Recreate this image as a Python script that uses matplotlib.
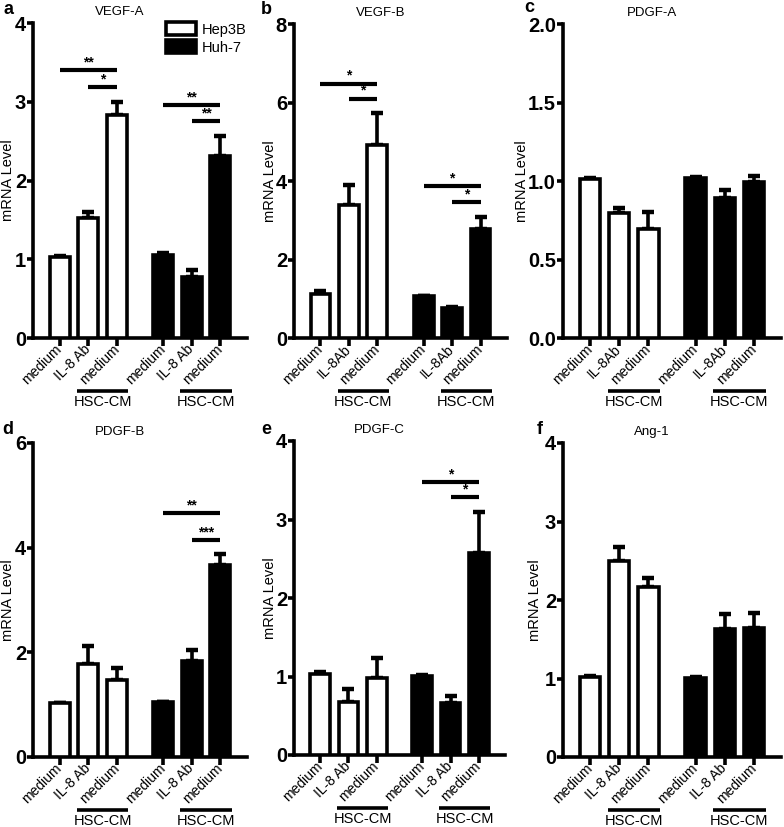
import matplotlib
matplotlib.use('Agg')
import matplotlib.pyplot as plt
import matplotlib.transforms as mtrans
from matplotlib.patches import Patch
from matplotlib.lines import Line2D
from matplotlib.ticker import FormatStrFormatter

plt.rcParams['font.family'] = ['Liberation Sans', 'DejaVu Sans']

# ---------------- data ----------------
panel_letters = ['a', 'b', 'c', 'd', 'e', 'f']
titles = ['VEGF-A', 'VEGF-B', 'PDGF-A', 'PDGF-B', 'PDGF-C', 'Ang-1']
labels_space = ['medium', 'IL-8 Ab', 'medium', 'medium', 'IL-8 Ab', 'medium']
labels_nospace = ['medium', 'IL-8Ab', 'medium', 'medium', 'IL-8Ab', 'medium']
tick_labels = [labels_space, labels_nospace, labels_nospace,
               labels_space, labels_space, labels_space]
series_names = ['Hep3B', 'Huh-7']
group_label = 'HSC-CM'

hep3b_mean = [[1.03, 1.52, 2.83],
              [1.13, 3.40, 4.92],
              [1.015, 0.795, 0.695],
              [1.03, 1.77, 1.47],
              [1.03, 0.67, 0.98],
              [1.02, 2.50, 2.16]]
hep3b_err = [[0.01, 0.08, 0.17],
             [0.06, 0.51, 0.80],
             [0.005, 0.035, 0.11],
             [0.01, 0.36, 0.24],
             [0.03, 0.17, 0.25],
             [0.01, 0.18, 0.12]]
huh7_mean = [[1.05, 0.77, 2.31],
             [1.06, 0.77, 2.78],
             [1.02, 0.89, 0.995],
             [1.05, 1.84, 3.66],
             [1.01, 0.66, 2.57],
             [1.01, 1.63, 1.64]]
huh7_err = [[0.03, 0.09, 0.25],
            [0.02, 0.02, 0.30],
            [0.005, 0.05, 0.04],
            [0.01, 0.21, 0.21],
            [0.005, 0.09, 0.53],
            [0.005, 0.19, 0.20]]

y_max = [4, 8, 2.0, 6, 4, 4]
y_step = [1, 2, 0.5, 2, 1, 1]

# significance: (panel, from bar, to bar, y value, text)
significance = [
    (0, 0, 2, 3.40, '**'), (0, 1, 2, 3.19, '*'),
    (0, 3, 5, 2.96, '**'), (0, 4, 5, 2.75, '**'),
    (1, 0, 2, 6.48, '*'), (1, 1, 2, 6.10, '*'),
    (1, 3, 5, 3.86, '*'), (1, 4, 5, 3.47, '*'),
    (3, 3, 5, 4.66, '**'), (3, 4, 5, 4.15, '***'),
    (4, 3, 5, 3.48, '*'), (4, 4, 5, 3.29, '*'),
]

# ---------------- layout ----------------
W, H = 784, 827
fig = plt.figure(figsize=(W / 100, H / 100), dpi=100)

# axes rectangles in pixels: left, right, top, bottom
rects = [(33, 247, 23, 338), (294, 507, 24, 338), (563, 781, 24, 338),
         (33, 247, 443, 757), (294, 505, 441, 755), (563, 781, 443, 757)]
letter_pos = [(9, 9), (266, 9), (529, 8), (8, 429), (266, 429), (540, 429)]
ylabel_x = [8, 270, 522, 8, 270, 535]

group_gap = 1.62
pos = [0, 1, 2, 2 + group_gap, 3 + group_gap, 4 + group_gap]
LW = 2.6
bar_w = 0.7

for i in range(6):
    l, r, t, b = rects[i]
    ax = fig.add_axes([l / W, 1 - b / H, (r - l) / W, (b - t) / H])
    means = hep3b_mean[i] + huh7_mean[i]
    errs = hep3b_err[i] + huh7_err[i]
    colors = ['white'] * 3 + ['black'] * 3
    ax.bar(pos, means, width=bar_w, color=colors, edgecolor='black',
           linewidth=LW, zorder=3)
    ax.errorbar(pos, means, yerr=[[0] * 6, errs], fmt='none', ecolor='black',
                elinewidth=LW, capsize=4.5, capthick=LW + 0.6, zorder=2)
    ax.set_xlim(-0.93, pos[-1] + 0.93)
    ax.set_ylim(0, y_max[i])
    ticks = [k * y_step[i] for k in range(int(round(y_max[i] / y_step[i])) + 1)]
    ax.set_yticks(ticks)
    if i == 2:
        ax.yaxis.set_major_formatter(FormatStrFormatter('%.1f'))
    for s in ['top', 'right']:
        ax.spines[s].set_visible(False)
    for s in ['left', 'bottom']:
        ax.spines[s].set_linewidth(LW)
    ax.tick_params(axis='y', length=4, width=LW, pad=1, labelsize=14.5)
    for lab in ax.get_yticklabels():
        lab.set_fontweight('bold')
    ax.set_xticks(pos)
    ax.set_xticklabels(tick_labels[i], rotation=45, ha='right', va='center',
                       rotation_mode='anchor', fontsize=10)
    ax.tick_params(axis='x', length=6, width=LW, pad=0.5)

    # title and panel letter
    fig.text(((l + r) / 2 - 20) / W, 1 - (t - 11) / H, titles[i],
             ha='center', va='center', fontsize=9.5)
    fig.text(letter_pos[i][0] / W, 1 - letter_pos[i][1] / H, panel_letters[i],
             ha='center', va='center', fontsize=13, fontweight='bold')
    fig.text(ylabel_x[i] / W, 1 - (t + b) / 2 / H, 'mRNA Level', rotation=90,
             ha='center', va='center', fontsize=10.5)

    # HSC-CM group brackets
    tr_line = mtrans.offset_copy(ax.get_xaxis_transform(), fig=fig, y=-53, units='dots')
    tr_text = mtrans.offset_copy(ax.get_xaxis_transform(), fig=fig, y=-64, units='dots')
    for g0, g1 in [(1, 2), (4, 5)]:
        x0, x1 = pos[g0] - 0.4, pos[g1] + 0.4
        ax.add_line(Line2D([x0, x1], [0, 0], transform=tr_line, color='black',
                           linewidth=LW, clip_on=False, solid_capstyle='butt'))
        ax.text((x0 + x1) / 2, 0, group_label, transform=tr_text, ha='center',
                va='center', fontsize=10.5)

    # significance bars
    for (p, a0, a1, yv, txt) in significance:
        if p != i:
            continue
        ax.plot([pos[a0], pos[a1]], [yv, yv], color='black', linewidth=LW + 0.4,
                solid_capstyle='butt', clip_on=False, zorder=4)
        ax.annotate(txt, ((pos[a0] + pos[a1]) / 2, yv), xytext=(0, 0.5),
                    textcoords='offset points', ha='center', va='bottom',
                    fontsize=10, fontweight='bold')

    if i == 0:
        handles = [Patch(facecolor='white', edgecolor='black', linewidth=LW),
                   Patch(facecolor='black', edgecolor='black', linewidth=LW)]
        ax.legend(handles, series_names, loc='upper right',
                  bbox_to_anchor=(247 / W, 1 - 22 / H), bbox_transform=fig.transFigure,
                  frameon=False, fontsize=10.5, handlelength=2.1, handleheight=1.0,
                  handletextpad=0.4, labelspacing=0.25, borderaxespad=0, borderpad=0)

fig.savefig('out.png', dpi=100)
